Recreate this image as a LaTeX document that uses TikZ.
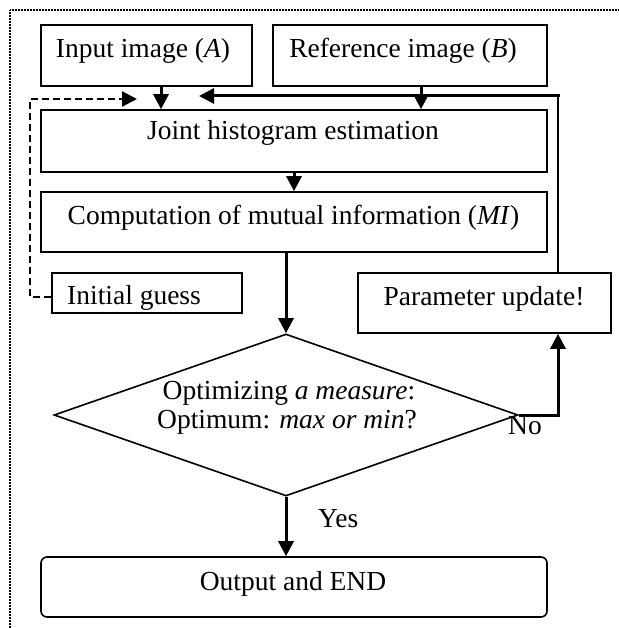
\documentclass[tikz,border=0pt]{standalone}
\usepackage{fontspec}
\setmainfont{Liberation Serif}
\usetikzlibrary{shapes.geometric,arrows.meta}
\begin{document}
\begin{tikzpicture}[x=1pt,y=-1pt,
  box/.style={draw,line width=1.6pt,inner sep=0pt},
  txt/.style={inner sep=0pt,anchor=base,font=\fontsize{27.5}{32}\selectfont},
  txtw/.style={txt,anchor=base west},
  arr/.style={line width=3pt,-{Triangle[length=15pt,width=15pt]}},
  thinln/.style={line width=1.6pt},
  dashln/.style={line width=2.4pt,dash pattern=on 7pt off 4pt,-{Triangle[length=15pt,width=15pt]}},
  border/.style={line width=2.2pt,dash pattern=on 1pt off 0.5pt}]
\useasboundingbox (0,0) rectangle (618,628);
\draw[border] (10,628) -- (10,10) -- (618,10);
% boxes
\node[box,minimum width=211pt,minimum height=61pt] (in) at (146.5,55.5) {};
\node[box,minimum width=274pt,minimum height=61pt] (ref) at (410,55.5) {};
\node[box,minimum width=506pt,minimum height=62pt] (joint) at (294,141) {};
\node[box,minimum width=506pt,minimum height=60pt] (comp) at (294,222) {};
\node[box,minimum width=190pt,minimum height=40pt] (init) at (147,293) {};
\node[box,minimum width=253pt,minimum height=60pt] (param) at (484.5,303) {};
\node[draw,line width=1.6pt,shape=diamond,aspect=2.86,inner sep=0pt,minimum width=464pt,minimum height=162pt] (dec) at (286,415) {};
\node[box,rounded corners=6pt,minimum width=506pt,minimum height=60pt] (out) at (294,587) {};
% texts
\node[txt] (tin) at (143,58) {Input image (\textit{A})};
\node[txt] (tref) at (403,58) {Reference image (\textit{B})};
\node[txt] (tjoint) at (293,140) {Joint histogram estimation};
\node[txt] (tcomp) at (293.5,224) {Computation of mutual information (\textit{MI})};
\node[txtw] (tinit) at (67,304) {Initial guess};
\node[txt] (tparam) at (484,305) {Parameter update!};
\node[txt] (topt1) at (289,399) {Optimizing \textit{a measure}:};
\node[txt] (topt2) at (287,428) {Optimum: \textit{max or min}?};
\node[txt] (tout) at (293,590) {Output and END};
\node[txtw] (tyes) at (318,527) {Yes};
\node[txtw] (tno) at (508,434) {No};
% connectors
\coordinate (fbtip) at (199,96);
\coordinate (dtip) at (137,99);
\draw[arr] (in.south -| 161,0) -- (joint.north -| 161,0);
\draw[arr] (ref.south -| 421,0) -- (joint.north -| 421,0);
\draw[arr] (joint.south) -- (comp.north);
\draw[arr] (dec.north |- comp.south) -- (dec.north);
\draw[arr] (dec.south) -- (dec.south |- out.north);
\draw[thinln] (param.north -| 558,0) -- (558,96);
\draw[arr] (559.5,96) -- (fbtip);
\draw[arr] (dec.east) -| (param.south -| 558,0);
\draw[dashln] (init.west |- 0,297) -- (30,297) -- (30,99) -- (dtip);
\end{tikzpicture}
\end{document}
